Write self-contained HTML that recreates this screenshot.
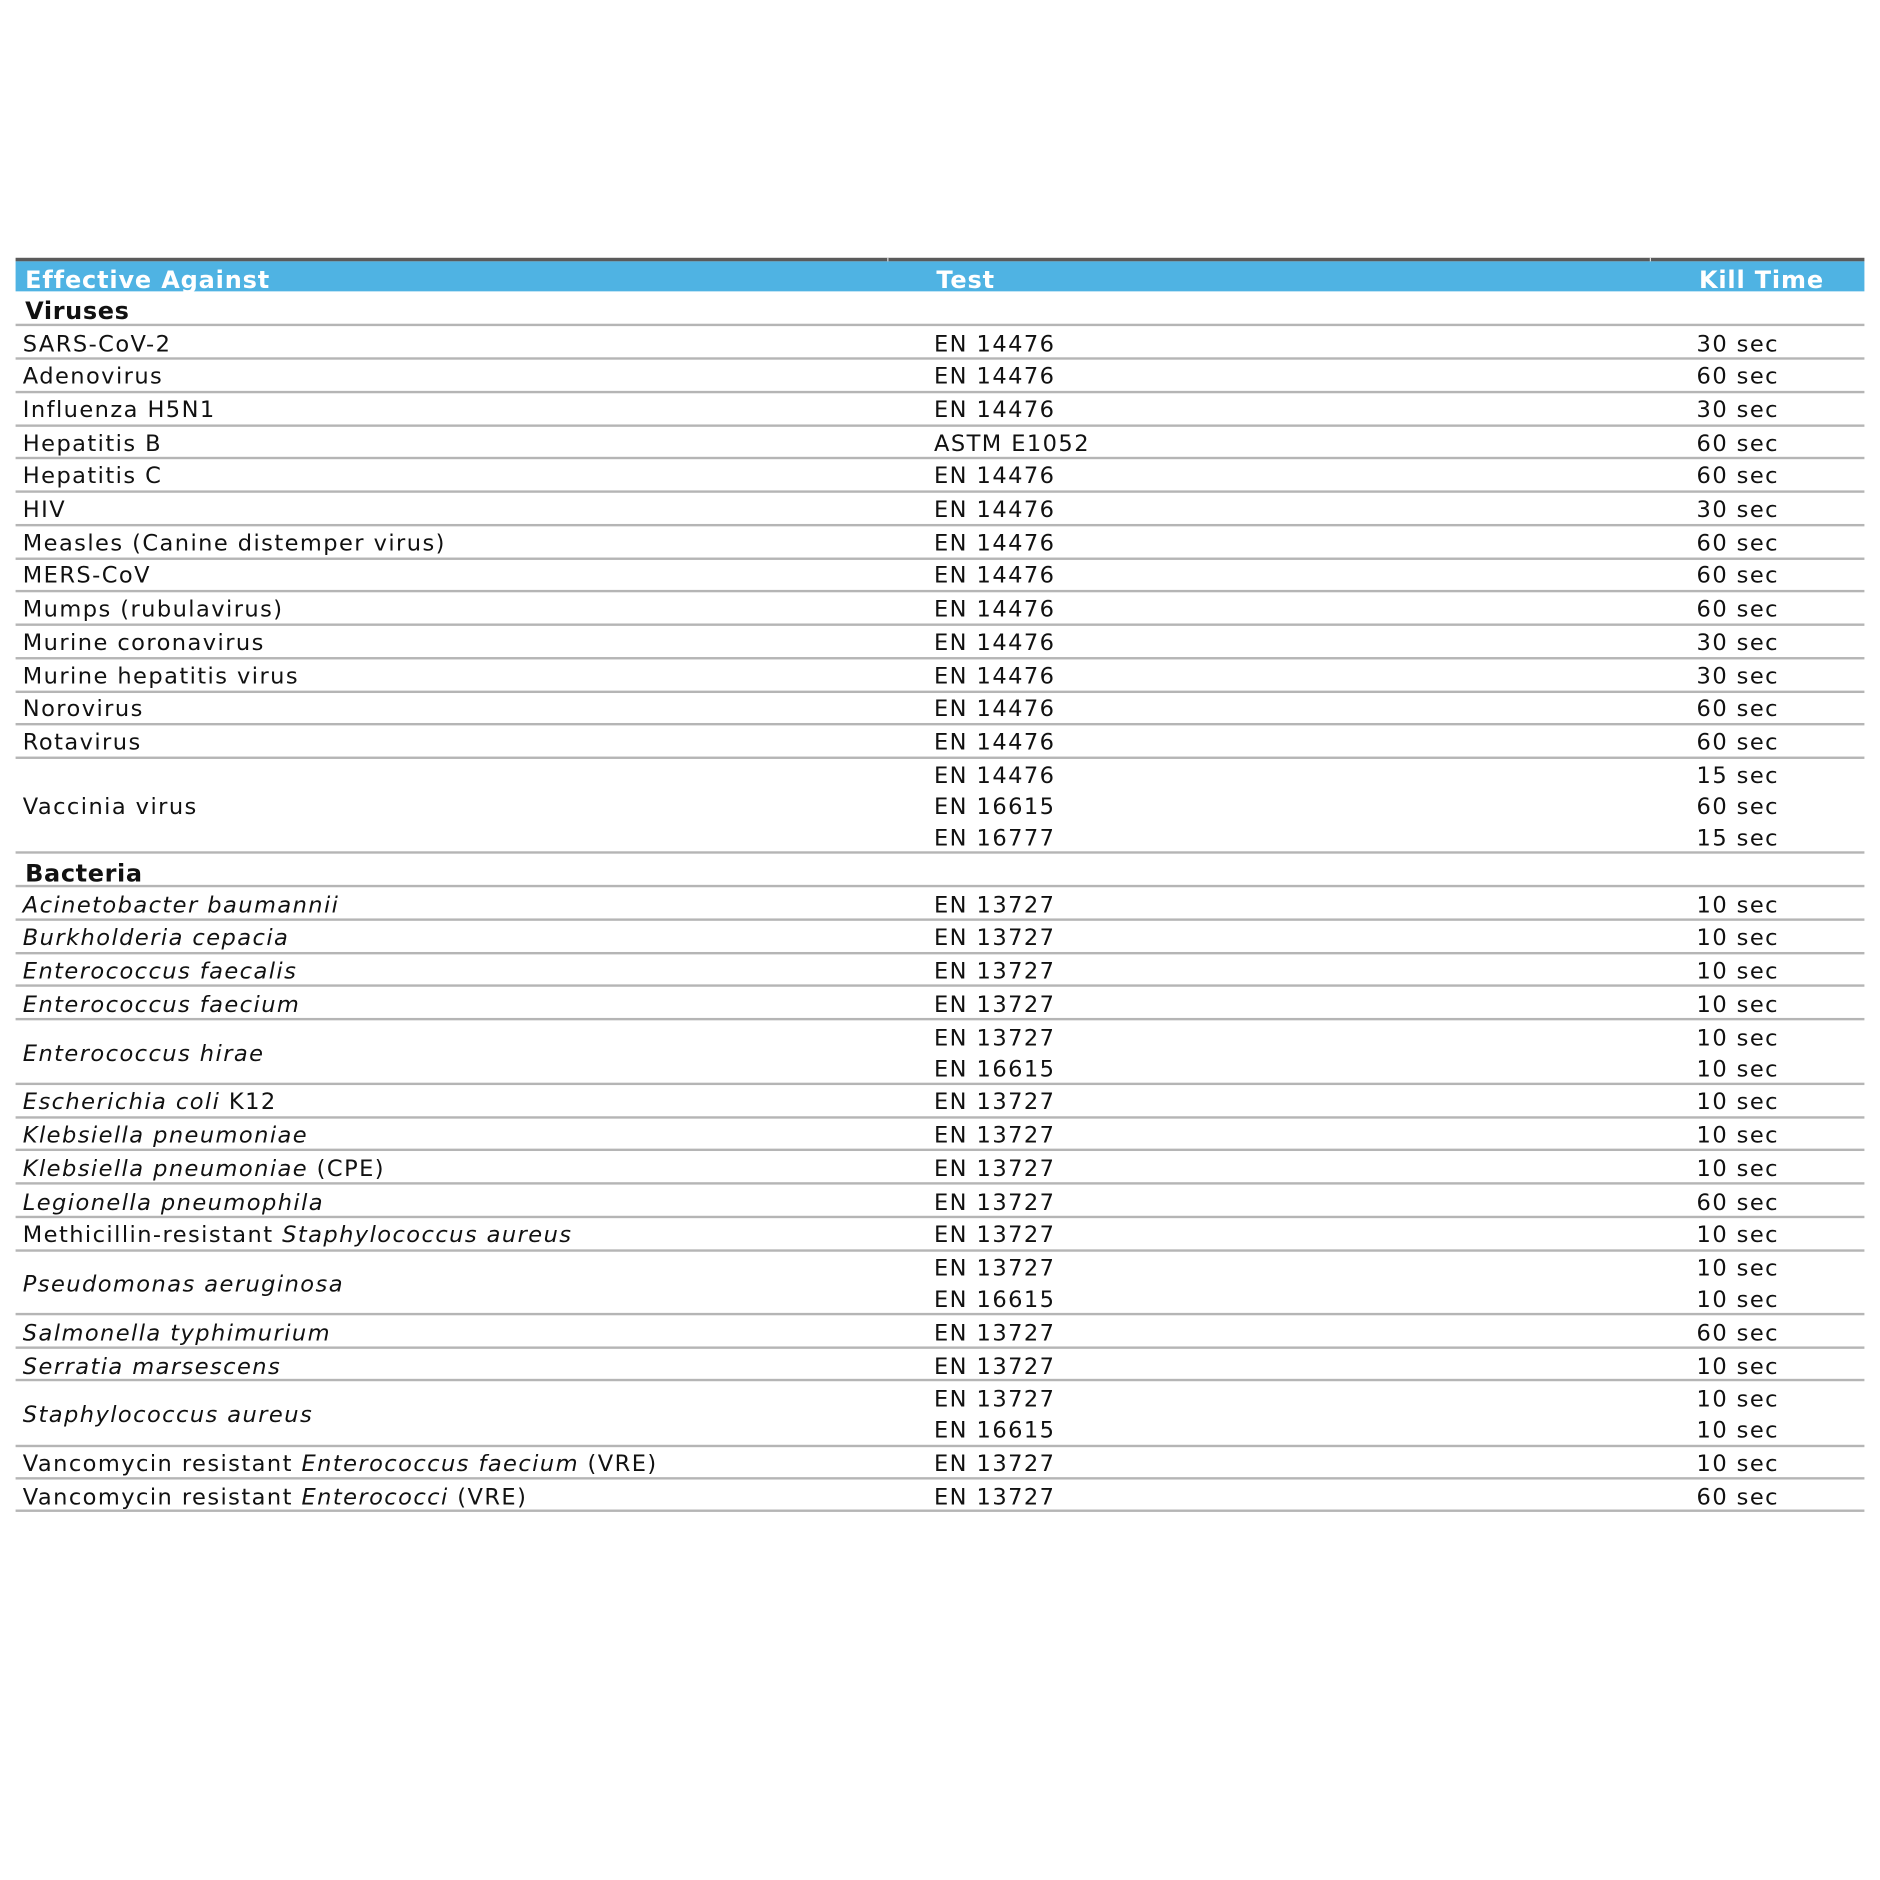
<!DOCTYPE html>
<html><head><meta charset="utf-8"><style>
html,body{margin:0;padding:0;background:#fff;width:1880px;height:1880px;overflow:hidden}
#c{position:absolute;left:0;top:0;width:1568px;height:1568px;transform:scale(1.19898);transform-origin:0 0;font-family:"DejaVu Sans","Liberation Sans",sans-serif;font-size:18.8px;letter-spacing:1.2px;color:#111}
.l{position:absolute;left:13px;width:1542px;height:2.2px;background:#b5b5b5}
.t{position:absolute;height:24px;line-height:24px;white-space:nowrap}
.a{left:19px}.b{left:779px}.k{left:1415px}
i{font-style:italic}
.h{position:absolute;left:13px;top:218px;width:1542px;height:25px;background:#4fb3e3}
.hd{position:absolute;left:13px;top:215px;width:1542px;height:3px;background:#5a5a5a}
.ht{position:absolute;top:221px;line-height:24px;color:#fff;font-weight:bold;font-size:20px;letter-spacing:0.7px}
.s{font-weight:bold;font-size:20px;left:21px;letter-spacing:0.5px}
</style></head><body><div id="c">
<div class="hd"></div><div class="h"></div>
<div style="position:absolute;left:740px;top:215px;width:1px;height:3px;background:#ddd"></div>
<div style="position:absolute;left:1376px;top:215px;width:1px;height:3px;background:#ddd"></div>
<div class="ht" style="left:21px">Effective Against</div>
<div class="ht" style="left:781px">Test</div>
<div class="ht" style="left:1417px">Kill Time</div>

<div class="l" style="top:270px"></div><div class="l" style="top:298px"></div><div class="l" style="top:326px"></div><div class="l" style="top:354px"></div><div class="l" style="top:381px"></div><div class="l" style="top:409px"></div><div class="l" style="top:437px"></div><div class="l" style="top:465px"></div><div class="l" style="top:492px"></div><div class="l" style="top:520px"></div><div class="l" style="top:548px"></div><div class="l" style="top:576px"></div><div class="l" style="top:603px"></div><div class="l" style="top:631px"></div><div class="l" style="top:710px"></div><div class="l" style="top:738px"></div><div class="l" style="top:766px"></div><div class="l" style="top:794px"></div><div class="l" style="top:821px"></div><div class="l" style="top:849px"></div><div class="l" style="top:903px"></div><div class="l" style="top:931px"></div><div class="l" style="top:958px"></div><div class="l" style="top:986px"></div><div class="l" style="top:1014px"></div><div class="l" style="top:1042px"></div><div class="l" style="top:1095px"></div><div class="l" style="top:1123px"></div><div class="l" style="top:1150px"></div><div class="l" style="top:1205px"></div><div class="l" style="top:1232px"></div><div class="l" style="top:1259px"></div>

<div class="t s" style="top:247px">Viruses</div>
<div class="t a" style="top:276px">SARS-CoV-2</div><div class="t b" style="top:276px">EN 14476</div><div class="t k" style="top:276px">30 sec</div>
<div class="t a" style="top:303px">Adenovirus</div><div class="t b" style="top:303px">EN 14476</div><div class="t k" style="top:303px">60 sec</div>
<div class="t a" style="top:331px">Influenza H5N1</div><div class="t b" style="top:331px">EN 14476</div><div class="t k" style="top:331px">30 sec</div>
<div class="t a" style="top:359px">Hepatitis B</div><div class="t b" style="top:359px">ASTM E1052</div><div class="t k" style="top:359px">60 sec</div>
<div class="t a" style="top:386px">Hepatitis C</div><div class="t b" style="top:386px">EN 14476</div><div class="t k" style="top:386px">60 sec</div>
<div class="t a" style="top:414px">HIV</div><div class="t b" style="top:414px">EN 14476</div><div class="t k" style="top:414px">30 sec</div>
<div class="t a" style="top:442px">Measles (Canine distemper virus)</div><div class="t b" style="top:442px">EN 14476</div><div class="t k" style="top:442px">60 sec</div>
<div class="t a" style="top:469px">MERS-CoV</div><div class="t b" style="top:469px">EN 14476</div><div class="t k" style="top:469px">60 sec</div>
<div class="t a" style="top:497px">Mumps (rubulavirus)</div><div class="t b" style="top:497px">EN 14476</div><div class="t k" style="top:497px">60 sec</div>
<div class="t a" style="top:525px">Murine coronavirus</div><div class="t b" style="top:525px">EN 14476</div><div class="t k" style="top:525px">30 sec</div>
<div class="t a" style="top:553px">Murine hepatitis virus</div><div class="t b" style="top:553px">EN 14476</div><div class="t k" style="top:553px">30 sec</div>
<div class="t a" style="top:580px">Norovirus</div><div class="t b" style="top:580px">EN 14476</div><div class="t k" style="top:580px">60 sec</div>
<div class="t a" style="top:608px">Rotavirus</div><div class="t b" style="top:608px">EN 14476</div><div class="t k" style="top:608px">60 sec</div>
<div class="t a" style="top:662px">Vaccinia virus</div>
<div class="t b" style="top:636px">EN 14476</div><div class="t k" style="top:636px">15 sec</div>
<div class="t b" style="top:662px">EN 16615</div><div class="t k" style="top:662px">60 sec</div>
<div class="t b" style="top:688px">EN 16777</div><div class="t k" style="top:688px">15 sec</div>

<div class="t s" style="top:716px">Bacteria</div>
<div class="t a" style="top:744px"><i>Acinetobacter baumannii</i></div><div class="t b" style="top:744px">EN 13727</div><div class="t k" style="top:744px">10 sec</div>
<div class="t a" style="top:771px"><i>Burkholderia cepacia</i></div><div class="t b" style="top:771px">EN 13727</div><div class="t k" style="top:771px">10 sec</div>
<div class="t a" style="top:799px"><i>Enterococcus faecalis</i></div><div class="t b" style="top:799px">EN 13727</div><div class="t k" style="top:799px">10 sec</div>
<div class="t a" style="top:827px"><i>Enterococcus faecium</i></div><div class="t b" style="top:827px">EN 13727</div><div class="t k" style="top:827px">10 sec</div>
<div class="t a" style="top:868px"><i>Enterococcus hirae</i></div>
<div class="t b" style="top:855px">EN 13727</div><div class="t k" style="top:855px">10 sec</div>
<div class="t b" style="top:881px">EN 16615</div><div class="t k" style="top:881px">10 sec</div>
<div class="t a" style="top:908px"><i>Escherichia coli</i> K12</div><div class="t b" style="top:908px">EN 13727</div><div class="t k" style="top:908px">10 sec</div>
<div class="t a" style="top:936px"><i>Klebsiella pneumoniae</i></div><div class="t b" style="top:936px">EN 13727</div><div class="t k" style="top:936px">10 sec</div>
<div class="t a" style="top:964px"><i>Klebsiella pneumoniae</i> (CPE)</div><div class="t b" style="top:964px">EN 13727</div><div class="t k" style="top:964px">10 sec</div>
<div class="t a" style="top:992px"><i>Legionella pneumophila</i></div><div class="t b" style="top:992px">EN 13727</div><div class="t k" style="top:992px">60 sec</div>
<div class="t a" style="top:1019px">Methicillin-resistant <i>Staphylococcus aureus</i></div><div class="t b" style="top:1019px">EN 13727</div><div class="t k" style="top:1019px">10 sec</div>
<div class="t a" style="top:1060px"><i>Pseudomonas aeruginosa</i></div>
<div class="t b" style="top:1047px">EN 13727</div><div class="t k" style="top:1047px">10 sec</div>
<div class="t b" style="top:1073px">EN 16615</div><div class="t k" style="top:1073px">10 sec</div>
<div class="t a" style="top:1101px"><i>Salmonella typhimurium</i></div><div class="t b" style="top:1101px">EN 13727</div><div class="t k" style="top:1101px">60 sec</div>
<div class="t a" style="top:1129px"><i>Serratia marsescens</i></div><div class="t b" style="top:1129px">EN 13727</div><div class="t k" style="top:1129px">10 sec</div>
<div class="t a" style="top:1169px"><i>Staphylococcus aureus</i></div>
<div class="t b" style="top:1156px">EN 13727</div><div class="t k" style="top:1156px">10 sec</div>
<div class="t b" style="top:1182px">EN 16615</div><div class="t k" style="top:1182px">10 sec</div>
<div class="t a" style="top:1210px">Vancomycin resistant <i>Enterococcus faecium</i> (VRE)</div><div class="t b" style="top:1210px">EN 13727</div><div class="t k" style="top:1210px">10 sec</div>
<div class="t a" style="top:1238px">Vancomycin resistant <i>Enterococci</i> (VRE)</div><div class="t b" style="top:1238px">EN 13727</div><div class="t k" style="top:1238px">60 sec</div>
</div></body></html>
